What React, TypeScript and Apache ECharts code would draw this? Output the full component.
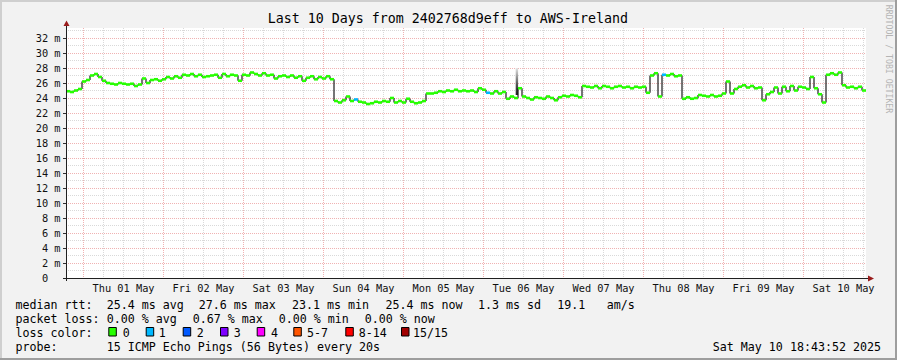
import { useEffect, useRef } from 'react';
import * as echarts from 'echarts';

// ---------- data ----------
const titleText = 'Last 10 Days from 2402768d9eff to AWS-Ireland';
const dayLabels = ['Thu 01 May', 'Fri 02 May', 'Sat 03 May', 'Sun 04 May', 'Mon 05 May', 'Tue 06 May', 'Wed 07 May', 'Thu 08 May', 'Fri 09 May', 'Sat 10 May'];
// time axis in hours since 2025-04-30 00:00
const rangeStartHour = 18 + 43 / 60 + 52 / 3600;
const rangeHours = 240;
const sampleStepHours = 1.2;
// median rtt in ms, one value per sample step
const medianRtt = [
  24.9, 24.8, 25.0, 25.2, 26.2, 26.4, 27.0, 27.2, 26.8, 26.3,
  26.0, 25.9, 25.8, 26.0, 25.9, 25.8, 25.9, 25.6, 25.8, 26.6,
  26.0, 26.4, 26.5, 26.3, 26.5, 26.8, 26.6, 26.9, 26.7, 27.1,
  27.0, 27.2, 26.9, 27.1, 26.8, 26.9, 27.0, 27.1, 26.7, 27.2,
  26.9, 27.1, 27.0, 26.3, 27.1, 27.0, 27.4, 27.2, 27.0, 27.3,
  27.0, 27.1, 26.6, 26.9, 27.0, 26.8, 27.0, 26.7, 26.9, 26.3,
  26.7, 26.9, 26.5, 26.8, 26.6, 26.9, 26.5, 23.6, 23.4, 23.7,
  24.2, 23.6, 23.8, 23.5, 23.4, 23.2, 23.3, 23.5, 23.4, 23.6,
  23.5, 24.0, 23.4, 23.6, 23.4, 23.9, 23.5, 23.3, 23.4, 23.6,
  24.6, 24.6, 24.7, 24.9, 24.8, 25.0, 24.9, 25.1, 24.9, 25.0,
  24.9, 25.0, 24.8, 25.3, 25.1, 24.7, 24.6, 24.9, 24.6, 24.8,
  23.9, 24.2, 24.0, 25.3, 24.2, 24.0, 23.8, 24.1, 24.0, 23.9,
  24.2, 24.0, 23.7, 24.1, 24.3, 24.2, 24.4, 24.3, 24.1, 25.6,
  25.5, 25.4, 25.6, 25.3, 25.6, 25.5, 25.3, 25.5, 25.6, 25.4,
  25.5, 25.3, 25.5, 25.4, 25.5, 24.7, 27.0, 27.3, 24.2, 27.1,
  27.0, 27.2, 26.9, 27.0, 23.9, 24.1, 23.9, 24.0, 24.4, 24.3,
  24.2, 24.4, 24.2, 24.3, 24.6, 26.2, 24.6, 25.2, 25.5, 25.7,
  25.4, 25.6, 25.3, 25.4, 23.7, 24.5, 24.8, 25.4, 24.6, 25.5,
  24.9, 25.6, 25.0, 25.5, 25.4, 25.2, 26.8, 25.3, 24.5, 23.4,
  27.1, 27.3, 27.1, 27.4, 25.7, 25.4, 25.5, 25.3, 25.5, 25.0,
];
// sample indices with 1 of 15 pings lost
const lossOneIdx = [72, 105, 149];
// smoke (ping spread) spikes
const smokeSpikeHour = [154.0];
const smokeSpikeLow = [24.4];
const smokeSpikeHigh = [28.0];

const rttStats = ['25.4 ms avg', '27.6 ms max', '23.1 ms min', '25.4 ms now', '1.3 ms sd', '19.1', 'am/s'];
const lossStats = ['0.00 % avg', '0.67 % max', '0.00 % min', '0.00 % now'];
const lossLabels = ['0', '1', '2', '3', '4', '5-7', '8-14', '15/15'];
const lossColors = ['#26ff00', '#00b8ff', '#0059ff', '#7e00ff', '#ff00ff', '#ff5500', '#ff0000', '#a10000'];
const probeText = '15 ICMP Echo Pings (56 Bytes) every 20s';
const timestampText = 'Sat May 10 18:43:52 2025';
const watermark = 'RRDTOOL / TOBI OETIKER';

// ---------- layout ----------
const FONT = '"DejaVu Sans Mono", "Liberation Mono", monospace';
const GRID = { left: 66, top: 28, width: 800, height: 250 };
const Y_MAX = 250 / 7.5;
const LEG_SIZE = 11.65;
const LINE_Y = [304.8, 319.0, 333.2, 347.4];
const RTT_X = [106.7, 198.7, 292, 385.4, 477.9, 557.3, 606.7];
const LOSS_X = [106.7, 192.7, 278.7, 364.7];
const BOX_X = [108.3, 145.7, 182.7, 220, 256.7, 293.3, 345.3, 401];
const BOXLABEL_X = [122.7, 158.8, 196.7, 233.7, 271, 307, 358.7, 413];

export default function App() {
  const ref = useRef<HTMLDivElement>(null);

  useEffect(() => {
    if (!ref.current) return;
    const chart = echarts.init(ref.current, undefined, { renderer: 'svg' });
    const xMin = rangeStartHour;
    const xMax = rangeStartHour + rangeHours;

    const sixHourly: number[] = [];
    for (let h = 24; h <= xMax; h += 6) sixHourly.push(h);
    const dayStarts = dayLabels.map((_, i) => 24 * (i + 1));
    const noons = dayLabels.map((_, i) => 24 * (i + 1) + 12);
    const yMinor: number[] = [];
    for (let v = 1; v <= 33; v += 2) yMinor.push(v);
    const yMajor: number[] = [];
    for (let v = 0; v <= 32; v += 2) yMajor.push(v);

    const rows = medianRtt.map((v, i) => [
      rangeStartHour + i * sampleStepHours,
      v,
      i > 0 ? medianRtt[i - 1] : v,
      lossOneIdx.includes(i) ? 1 : 0,
    ]);
    const smokeRows = smokeSpikeHour.map((h, i) => [h, smokeSpikeLow[i], smokeSpikeHigh[i]]);

    const txt = (x: number, y: number, text: string, size: number, align = 'left', extra: any = {}) => ({
      type: 'text',
      x,
      y,
      silent: true,
      z: 100,
      ...extra,
      style: {
        text,
        fill: extra.fill || '#000',
        fontSize: size,
        fontFamily: FONT,
        align,
        verticalAlign: 'middle',
        textAlign: align,
        textVerticalAlign: 'middle',
      },
    });

    const graphics: any[] = [];
    // frame shading
    graphics.push({ type: 'line', silent: true, shape: { x1: 0, y1: 1, x2: 897, y2: 1 }, style: { stroke: '#cfcfcf', lineWidth: 2 } });
    graphics.push({ type: 'line', silent: true, shape: { x1: 1, y1: 0, x2: 1, y2: 360 }, style: { stroke: '#cfcfcf', lineWidth: 2 } });
    graphics.push({ type: 'line', silent: true, shape: { x1: 0, y1: 359, x2: 897, y2: 359 }, style: { stroke: '#9e9e9e', lineWidth: 2 } });
    graphics.push({ type: 'line', silent: true, shape: { x1: 896, y1: 0, x2: 896, y2: 360 }, style: { stroke: '#9e9e9e', lineWidth: 2 } });
    // axes with arrows
    graphics.push({ type: 'line', silent: true, z: 90, shape: { x1: 66.5, y1: 281, x2: 66.5, y2: 24 }, style: { stroke: '#202020', lineWidth: 1 } });
    graphics.push({ type: 'line', silent: true, z: 90, shape: { x1: 63, y1: 278.5, x2: 869, y2: 278.5 }, style: { stroke: '#202020', lineWidth: 1 } });
    graphics.push({ type: 'polygon', silent: true, z: 91, shape: { points: [[63.5, 26], [69.5, 26], [66.5, 20.5]] }, style: { fill: '#9a1c1c' } });
    graphics.push({ type: 'polygon', silent: true, z: 91, shape: { points: [[868, 275.5], [868, 281.5], [874, 278.5]] }, style: { fill: '#9a1c1c' } });
    // title
    graphics.push(txt(447.8, 18.4, titleText, 13.3, 'center'));
    // watermark
    graphics.push(txt(889, 59, watermark, 8.2, 'center', { rotation: -Math.PI / 2, fill: '#b4b4b4' }));
    // legend lines
    graphics.push(txt(15.4, LINE_Y[0], 'median rtt:', LEG_SIZE));
    rttStats.forEach((s, i) => graphics.push(txt(RTT_X[i], LINE_Y[0], s, LEG_SIZE)));
    graphics.push(txt(15.4, LINE_Y[1], 'packet loss:', LEG_SIZE));
    lossStats.forEach((s, i) => graphics.push(txt(LOSS_X[i], LINE_Y[1], s, LEG_SIZE)));
    graphics.push(txt(15.4, LINE_Y[2], 'loss color:', LEG_SIZE));
    lossLabels.forEach((s, i) => {
      graphics.push({
        type: 'rect', silent: true, z: 100,
        shape: { x: BOX_X[i] + 0.5, y: 327.5, width: 7.5, height: 8.5 },
        style: { fill: lossColors[i], stroke: '#000', lineWidth: 1 },
      });
      graphics.push(txt(BOXLABEL_X[i], LINE_Y[2], s, LEG_SIZE));
    });
    graphics.push(txt(15.4, LINE_Y[3], 'probe:', LEG_SIZE));
    graphics.push(txt(106.7, LINE_Y[3], probeText, LEG_SIZE));
    graphics.push(txt(881, LINE_Y[3], timestampText, LEG_SIZE, 'right'));

    const axisLabelStyle = { fontFamily: FONT, fontSize: 10.3, color: '#111' };

    chart.setOption({
      animation: false,
      backgroundColor: '#f2f2f2',
      grid: [
        { ...GRID, show: true, backgroundColor: '#ffffff', borderWidth: 0, containLabel: false },
        { ...GRID, show: false, containLabel: false },
      ],
      xAxis: [
        {
          gridIndex: 0, type: 'value', min: xMin, max: xMax,
          axisLine: { show: false }, axisTick: { show: false, customValues: sixHourly }, axisLabel: { show: false },
          splitLine: { show: true, lineStyle: { color: '#d9d9d9', width: 1, type: [1, 1] } },
        },
        {
          gridIndex: 1, type: 'value', min: xMin, max: xMax,
          axisLine: { show: false }, axisTick: { show: false, customValues: dayStarts },
          axisLabel: {
            show: true, customValues: noons, margin: 5, ...axisLabelStyle,
            formatter: (v: number) => dayLabels[Math.round((v - 36) / 24)] || '',
          },
          splitLine: { show: true, lineStyle: { color: '#f0b2b2', width: 1, type: [1, 1] } },
        },
      ],
      yAxis: [
        {
          gridIndex: 0, type: 'value', min: 0, max: Y_MAX,
          axisLine: { show: false }, axisTick: { show: false, customValues: yMinor }, axisLabel: { show: false },
          splitLine: { show: true, lineStyle: { color: '#d9d9d9', width: 1, type: [1, 1] } },
        },
        {
          gridIndex: 1, type: 'value', min: 0, max: Y_MAX,
          axisLine: { show: false },
          axisTick: { show: true, customValues: yMajor, length: 3, lineStyle: { color: '#303030' } },
          axisLabel: {
            show: true, customValues: yMajor, margin: 5.5, ...axisLabelStyle,
            formatter: (v: number) => (v === 0 ? '0\u00a0\u00a0' : `${v} m`),
          },
          splitLine: { show: true, lineStyle: { color: '#f0b2b2', width: 1, type: [1, 1] } },
        },
      ],
      series: [
        {
          type: 'custom', xAxisIndex: 1, yAxisIndex: 1, clip: true, silent: true,
          encode: { x: 0, y: [1, 2] },
          data: smokeRows,
          renderItem: (_p: any, api: any) => {
            const t = api.value(0);
            const top = api.coord([t, api.value(2)]);
            const bot = api.coord([t, api.value(1)]);
            return {
              type: 'rect',
              shape: { x: top[0] - 1.2, y: top[1], width: 2.4, height: bot[1] - top[1] },
              style: {
                fill: new echarts.graphic.LinearGradient(0, 0, 0, 1, [
                  { offset: 0, color: '#e6e6e6' },
                  { offset: 0.6, color: '#555555' },
                  { offset: 1, color: '#222222' },
                ]),
              },
            };
          },
        },
        {
          type: 'custom', xAxisIndex: 1, yAxisIndex: 1, clip: true, silent: true,
          encode: { x: 0, y: 1 },
          data: rows,
          renderItem: (_p: any, api: any) => {
            const t = api.value(0);
            const a = api.coord([t, api.value(2)]);
            const b = api.coord([t, api.value(1)]);
            return {
              type: 'line',
              shape: { x1: a[0], y1: a[1], x2: b[0], y2: b[1] },
              style: { stroke: '#1a1a1a', lineWidth: 1.2 },
            };
          },
        },
        {
          type: 'custom', xAxisIndex: 1, yAxisIndex: 1, clip: true, silent: true,
          encode: { x: 0, y: 1 },
          data: rows,
          renderItem: (_p: any, api: any) => {
            const t = api.value(0);
            const v = api.value(1);
            const a = api.coord([t, v]);
            const b = api.coord([t + sampleStepHours, v]);
            return {
              type: 'line',
              shape: { x1: a[0], y1: a[1], x2: b[0], y2: b[1] },
              style: { stroke: api.value(3) ? lossColors[1] : lossColors[0], lineWidth: 2.6 },
            };
          },
        },
      ],
      graphic: graphics,
    });

    return () => chart.dispose();
  }, []);

  return (
    <div
      ref={ref}
      style={{ position: 'absolute', left: 0, top: 0, width: 897, height: 360, background: '#f2f2f2' }}
    />
  );
}
